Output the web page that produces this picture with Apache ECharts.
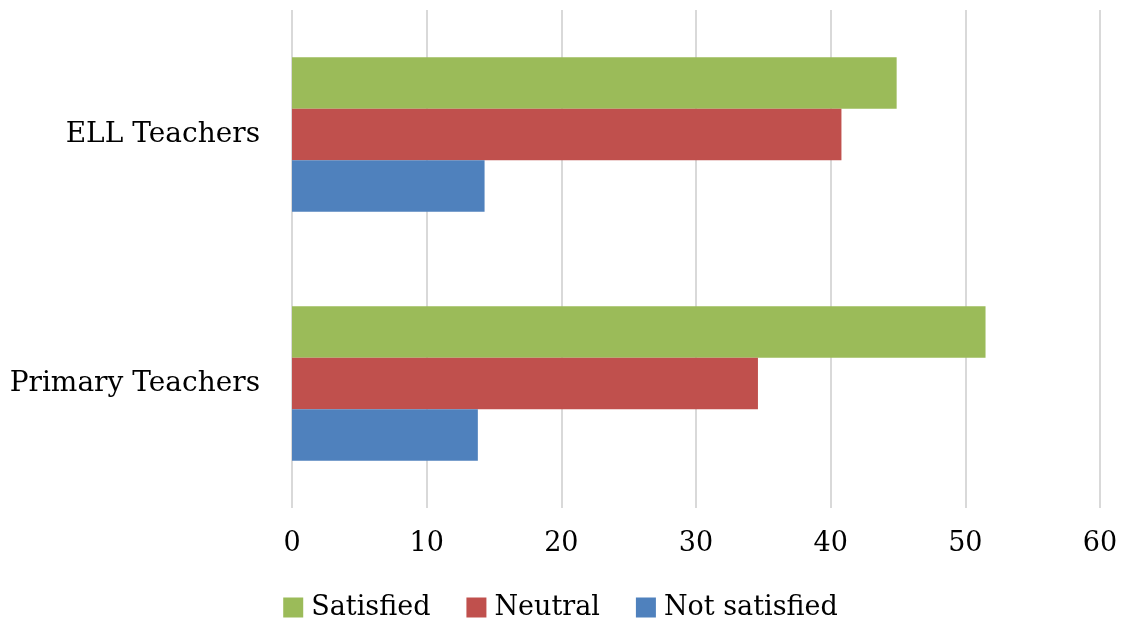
<!DOCTYPE html>
<html>
<head>
<meta charset="utf-8">
<script src="https://cdn.jsdelivr.net/npm/echarts@6/dist/echarts.min.js"></script>
<style>
  html, body { margin: 0; padding: 0; background: #fff; }
  #chart { width: 1121px; height: 624px; }
</style>
</head>
<body>
<div id="chart"></div>
<script>
// categories, bottom to top
const groups = ["Primary Teachers", "ELL Teachers"];
const satisfied = [51.5, 44.9];
const neutral = [34.6, 40.8];
const notSatisfied = [13.8, 14.3];
const xTicks = [0, 10, 20, 30, 40, 50, 60];

const serif = "'DejaVu Serif', 'Liberation Serif', serif";

const chart = echarts.init(document.getElementById("chart"));

const option = {
  animation: false,
  textStyle: { fontFamily: serif },
  grid: {
    left: 292,
    right: 21,
    top: 10,
    bottom: 116,
  },
  legend: {
    data: ["Satisfied", "Neutral", "Not satisfied"],
    bottom: -2,
    left: "center",
    itemWidth: 20,
    itemHeight: 20,
    itemGap: 36,
    icon: "rect",
    textStyle: {
      fontFamily: serif,
      fontSize: 27,
      color: "#000",
      padding: [0, 0, 0, 3],
    },
  },
  xAxis: {
    type: "value",
    min: xTicks[0],
    max: xTicks[xTicks.length - 1],
    interval: 10,
    axisLine: { show: false },
    axisTick: { show: false },
    axisLabel: {
      fontFamily: serif,
      fontSize: 27,
      color: "#000",
      margin: 22,
    },
    splitLine: { lineStyle: { color: "#d9d9d9", width: 2 } },
  },
  yAxis: {
    type: "category",
    data: groups,
    axisLine: { show: false },
    axisTick: { show: false },
    axisLabel: {
      fontFamily: serif,
      fontSize: 28,
      color: "#000",
      margin: 32,
    },
  },
  series: [
    {
      name: "Satisfied",
      type: "bar",
      data: satisfied,
      barGap: "0%",
      barCategoryGap: "38%",
      itemStyle: { color: "#9bbb59" },
    },
    {
      name: "Neutral",
      type: "bar",
      data: neutral,
      barGap: "0%",
      barCategoryGap: "38%",
      itemStyle: { color: "#c0504d" },
    },
    {
      name: "Not satisfied",
      type: "bar",
      data: notSatisfied,
      barGap: "0%",
      barCategoryGap: "38%",
      itemStyle: { color: "#4f81bd" },
    },
  ],
};

chart.setOption(option);
</script>
</body>
</html>
